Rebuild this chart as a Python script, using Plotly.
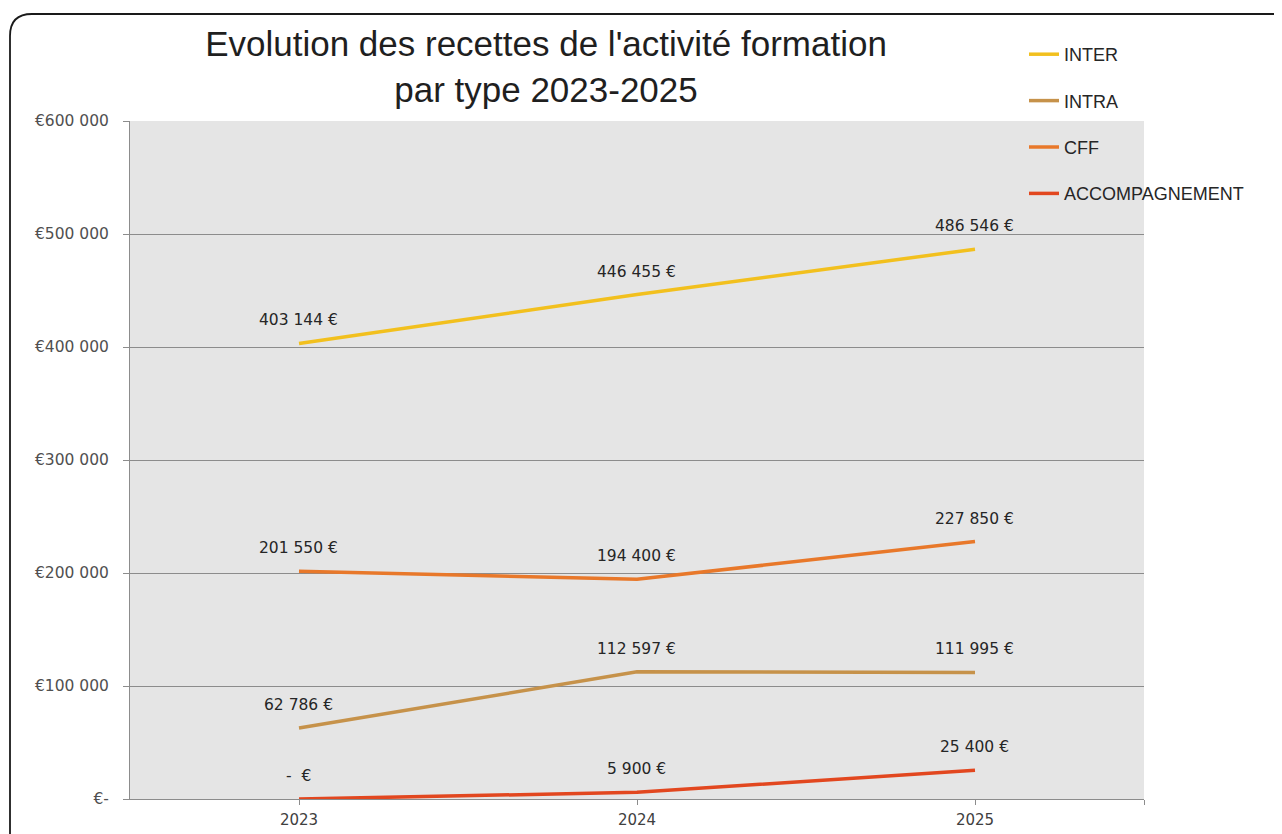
import plotly.graph_objects as go

years = ["2023", "2024", "2025"]
series_names = ["INTER", "INTRA", "CFF", "ACCOMPAGNEMENT"]
inter = [403144, 446455, 486546]
intra = [62786, 112597, 111995]
cff = [201550, 194400, 227850]
accomp = [0, 5900, 25400]
series_values = [inter, intra, cff, accomp]
colors = ["#F2C01E", "#C6924A", "#E8782A", "#E2471F"]
y_tickvals = [0, 100000, 200000, 300000, 400000, 500000, 600000]
y_ticktext = ["€-", "€100 000", "€200 000", "€300 000", "€400 000", "€500 000", "€600 000"]


def fmt_eur(v):
    if v == 0:
        return "-  €"
    return f"{v:,}".replace(",", " ") + " €"


xs = list(range(len(years)))
fig = go.Figure()
for i, (name, vals) in enumerate(zip(series_names, series_values)):
    fig.add_trace(go.Scatter(
        x=xs, y=vals, mode="lines", name=name,
        line=dict(color=colors[i], width=3.5),
        legendgroup=name,
    ))
    for x, v in zip(xs, vals):
        fig.add_annotation(
            x=x, y=v, text=fmt_eur(v), showarrow=False,
            yshift=23, xshift=-1,
            font=dict(family="DejaVu Sans", size=15.5, color="#262626"),
        )

# page body has an 8px margin; figure coords = page coords - 8
OFF = 8
L, R, T, B = 130, 1144, 121, 799   # plot area in page pixels
W, H = 1282 - OFF, 834 - OFF
pw, ph = R - L, B - T


def px(x):
    return (x - L) / pw


def py(y):
    return (B - y) / ph


rad = 22
x0, y0, x1, y1 = 10, 14, 1320, 880
path = (
    f"M {px(x0)},{py(y1)} L {px(x0)},{py(y0 + rad)} "
    f"Q {px(x0)},{py(y0)} {px(x0 + rad)},{py(y0)} "
    f"L {px(x1)},{py(y0)}"
)
fig.add_shape(type="path", xref="paper", yref="paper", path=path,
              line=dict(color="#1a1a1a", width=1.8), layer="below")

fig.update_layout(
    width=W, height=H,
    margin=dict(l=L - OFF, r=W - (R - OFF), t=T - OFF, b=H - (B - OFF),
                autoexpand=False),
    paper_bgcolor="white",
    plot_bgcolor="#E5E5E5",
    title=dict(
        text="Evolution des recettes de l'activité formation<br>par type 2023-2025",
        x=(546 - OFF) / W, xanchor="center", xref="container",
        y=1 - 48 / H, yanchor="top", yref="container",
        font=dict(family="Liberation Sans, Arial", size=35, color="#1f1f1f"),
    ),
    legend=dict(
        x=px(1024), y=py(36), xanchor="left", yanchor="top",
        bgcolor="rgba(0,0,0,0)",
        font=dict(family="Liberation Sans, Arial", size=18, color="#262626"),
        tracegroupgap=20,
        itemwidth=30,
    ),
    xaxis=dict(
        range=[-0.5, len(years) - 0.5],
        tickvals=xs + [len(years) - 0.5],
        ticktext=years + [""],
        showgrid=False, zeroline=False,
        showline=True, linecolor="#8c8c8c", linewidth=1,
        ticks="outside", ticklen=5, tickcolor="#8c8c8c",
        tickfont=dict(family="DejaVu Sans", size=15, color="#404040"),
        ticklabelstandoff=2,
        fixedrange=True,
    ),
    yaxis=dict(
        range=[0, 600000],
        tickvals=y_tickvals, ticktext=y_ticktext,
        showgrid=True, gridcolor="#8c8c8c", gridwidth=1,
        zeroline=False,
        showline=True, linecolor="#8c8c8c", linewidth=1,
        ticks="outside", ticklen=6, tickcolor="#8c8c8c",
        tickfont=dict(family="DejaVu Sans", size=15.5, color="#505050"),
        ticklabelstandoff=11,
        fixedrange=True,
    ),
    showlegend=True,
)

fig.write_html("out.html")
